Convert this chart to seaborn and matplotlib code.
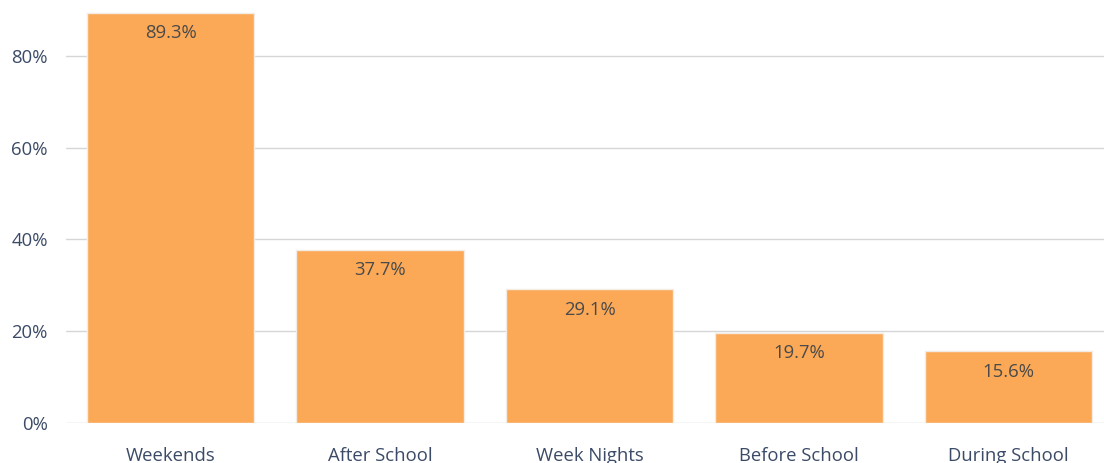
import matplotlib
matplotlib.use("Agg")
import matplotlib.pyplot as plt
import seaborn as sns
import pandas as pd

categories = ["Weekends", "After School", "Week Nights", "Before School", "During School"]
values = [89.3, 37.7, 29.1, 19.7, 15.6]
yticks = [0, 20, 40, 60, 80]
ytick_labels = ["0%", "20%", "40%", "60%", "80%"]

sns.set_theme(style="white")
plt.rcParams['font.family'] = ['Open Sans', 'DejaVu Sans']

df = pd.DataFrame({"cat": categories, "val": values})

fig = plt.figure(figsize=(11.04, 4.63), dpi=100)
ax = fig.add_axes([66/1104, 1 - 423/463, (1104 - 66)/1104, 423/463])

sns.barplot(data=df, x="cat", y="val", color="#FBA957", saturation=1,
            width=0.8, edgecolor="#f3ece4", linewidth=1, ax=ax, zorder=3)

ax.set_xlim(-0.5, 4.456)
ax.set_ylim(0, 92.2)
ax.set_yticks(yticks)
ax.set_yticklabels(ytick_labels)
ax.set_xlabel("")
ax.set_ylabel("")
ax.yaxis.grid(True, color="#d6d6d6", linewidth=1, zorder=0)
ax.set_axisbelow(True)
for s in ax.spines.values():
    s.set_visible(False)
ax.tick_params(axis="y", length=0, pad=13, labelsize=13.3, labelcolor="#3b4a66")
ax.tick_params(axis="x", length=0, pad=17, labelsize=13.3, labelcolor="#3b4a66")

for i, v in enumerate(values):
    ax.annotate(f"{v}%", xy=(i, v), xytext=(0, -14.5), textcoords="offset points",
                ha="center", va="center", fontsize=13.3, color="#4a4a4a")

fig.savefig("out.png", dpi=100)
